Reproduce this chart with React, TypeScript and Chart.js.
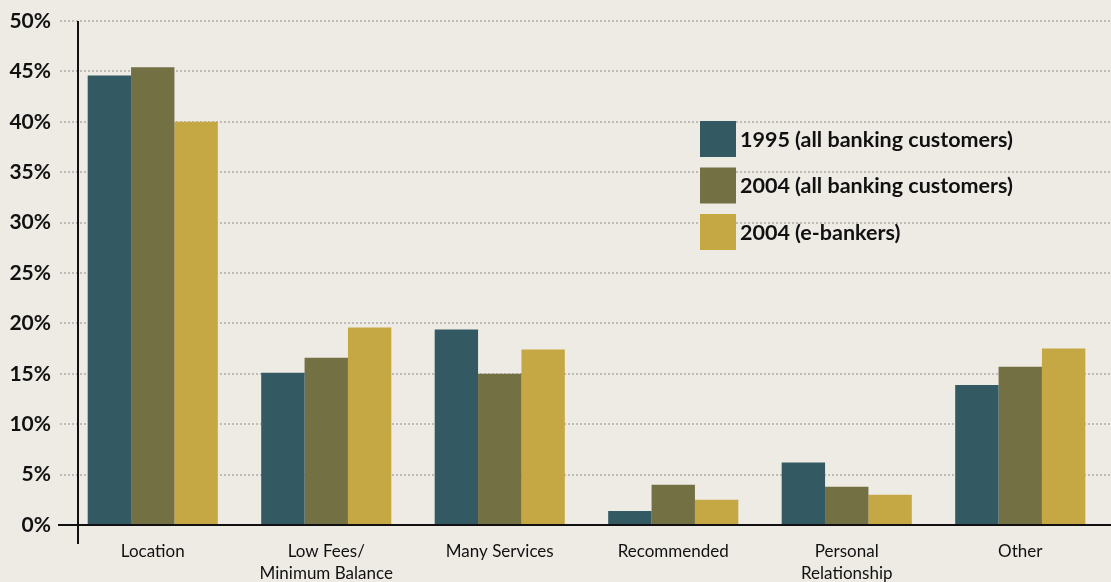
import React, { useEffect, useRef } from "react";
import { Chart, registerables } from "chart.js";

Chart.register(...registerables);

const categories: (string | string[])[] = [
  "Location",
  ["Low Fees/", "Minimum Balance"],
  "Many Services",
  "Recommended",
  ["Personal", "Relationship"],
  "Other",
];

const seriesLabels = [
  "1995 (all banking customers)",
  "2004 (all banking customers)",
  "2004 (e-bankers)",
];

const values1995 = [44.6, 15.1, 19.4, 1.4, 6.2, 13.9];
const values2004 = [45.4, 16.6, 15.0, 4.0, 3.8, 15.7];
const valuesEBankers = [40.0, 19.6, 17.4, 2.5, 3.0, 17.5];

const colors = ["#335A63", "#737044", "#C5A843"];
const BG = "#EEEBE5";
const FONT = "Lato, 'Open Sans', sans-serif";

const backgroundPlugin = {
  id: "bgFill",
  beforeDraw(chart: any) {
    const { ctx, width, height } = chart;
    ctx.save();
    ctx.fillStyle = BG;
    ctx.fillRect(0, 0, width, height);
    ctx.restore();
  },
};

const gridPlugin = {
  id: "customGrid",
  beforeDatasetsDraw(chart: any) {
    const { ctx, width } = chart;
    const y = chart.scales.y;
    ctx.save();
    ctx.strokeStyle = "rgba(150,150,150,0.55)";
    ctx.lineWidth = 2;
    ctx.setLineDash([2, 2]);
    y.ticks.forEach((t: any) => {
      if (t.value === 0) return;
      const py = Math.round(y.getPixelForValue(t.value));
      ctx.beginPath();
      ctx.moveTo(60, py);
      ctx.lineTo(width, py);
      ctx.stroke();
    });
    ctx.restore();
  },
  afterDatasetsDraw(chart: any) {
    const { ctx, width, chartArea } = chart;
    const y = chart.scales.y;
    const y0 = Math.round(y.getPixelForValue(0));
    const yTop = Math.round(y.getPixelForValue(y.max));
    const ax = chartArea.left + 12;
    ctx.save();
    ctx.strokeStyle = "#111";
    ctx.lineWidth = 2;
    ctx.setLineDash([]);
    ctx.beginPath();
    ctx.moveTo(58, y0);
    ctx.lineTo(width, y0);
    ctx.stroke();
    ctx.beginPath();
    ctx.moveTo(ax, yTop);
    ctx.lineTo(ax, y0 + 19);
    ctx.stroke();
    ctx.restore();
  },
};

const legendPlugin = {
  id: "customLegend",
  afterDraw(chart: any) {
    const { ctx } = chart;
    const x0 = 700;
    const y0 = 121;
    const size = 36;
    const gap = 46.5;
    ctx.save();
    ctx.font = `bold 21.5px ${FONT}`;
    ctx.textBaseline = "middle";
    ctx.textAlign = "left";
    chart.data.datasets.forEach((ds: any, i: number) => {
      const yy = y0 + i * gap;
      ctx.fillStyle = ds.backgroundColor;
      ctx.fillRect(x0, yy, size, size);
      ctx.fillStyle = "#111";
      ctx.fillText(ds.label, x0 + size + 4, yy + size / 2 + 1);
    });
    ctx.restore();
  },
};

export default function App() {
  const ref = useRef<HTMLCanvasElement | null>(null);

  useEffect(() => {
    if (!ref.current) return;
    Chart.defaults.font.family = FONT;
    Chart.defaults.color = "#111";
    const chart = new Chart(ref.current, {
      type: "bar",
      data: {
        labels: categories as any,
        datasets: [
          { label: seriesLabels[0], data: values1995, backgroundColor: colors[0] },
          { label: seriesLabels[1], data: values2004, backgroundColor: colors[1] },
          { label: seriesLabels[2], data: valuesEBankers, backgroundColor: colors[2] },
        ],
      },
      options: {
        responsive: false,
        animation: false,
        layout: { padding: { top: 21, right: 4, left: 0, bottom: 0 } },
        datasets: {
          bar: { categoryPercentage: 0.75, barPercentage: 1.0, borderWidth: 0 },
        },
        plugins: {
          legend: { display: false },
          tooltip: { enabled: false },
        },
        scales: {
          x: {
            grid: { display: false, drawTicks: false },
            border: { display: false },
            ticks: {
              padding: 15,
              font: { size: 17, family: FONT, lineHeight: 1.3 },
              color: "#111",
              maxRotation: 0,
              autoSkip: false,
            },
            afterFit: (s: any) => {
              s.height = 57;
            },
          },
          y: {
            min: 0,
            max: 50,
            grid: { display: false, drawTicks: false },
            border: { display: false },
            ticks: {
              stepSize: 5,
              padding: 15,
              font: { size: 21, weight: "bold", family: FONT, lineHeight: 0.5 },
              color: "#111",
              callback: (v: any) => `${v}%`,
            },
            afterFit: (s: any) => {
              s.width = 66;
            },
          },
        },
      },
      plugins: [backgroundPlugin, gridPlugin, legendPlugin],
    });
    return () => chart.destroy();
  }, []);

  return (
    <div
      style={{
        position: "fixed",
        left: 0,
        top: 0,
        width: 1111,
        height: 582,
        background: BG,
      }}
    >
      <canvas ref={ref} width={1111} height={582} style={{ display: "block" }} />
    </div>
  );
}
